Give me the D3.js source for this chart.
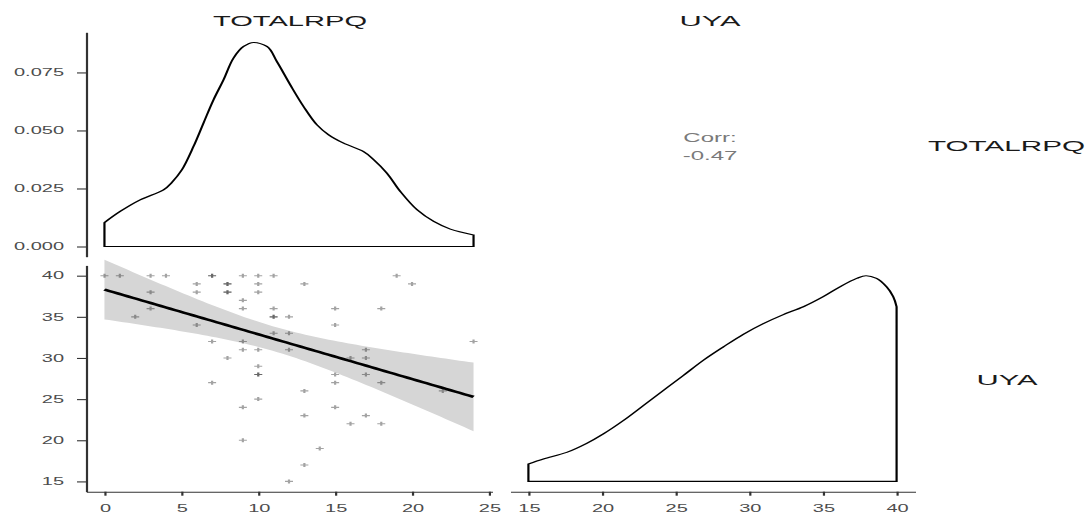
<!DOCTYPE html>
<html><head><meta charset="utf-8">
<script src="https://cdn.jsdelivr.net/npm/d3@7"></script>
<style>html,body{margin:0;padding:0;background:#fff;overflow:hidden}</style>
</head><body>
<script>
// ---------------- data ----------------
const varNames = ["TOTALRPQ", "UYA"];
const totalrpq = [0,1,3,4,7,7,9,10,11,19, 6,8,8,10,13,20, 3,6,8,8,10, 9, 3,9,11,15,18, 2,11,11,12, 6,15, 11,12, 7,9,24, 9,10,12,17, 8,16,17, 10, 10,10,15,17, 7,15,18, 13,22, 10, 9,15, 13,17, 16,18, 9, 14, 13, 12];
const uya      = [40,40,40,40,40,40,40,40,40,40, 39,39,39,39,39,39, 38,38,38,38,38, 37, 36,36,36,36,36, 35,35,35,35, 34,34, 33,33, 32,32,32, 31,31,31,31, 30,30,30, 29, 28,28,28,28, 27,27,27, 26,26, 25, 24,24, 23,23, 22,22, 20, 19, 17, 15];
const corrTitle = "Corr:";
const corrValue = "-0.47";
// density of TOTALRPQ (value, density)
const totDensX = [0,1.02,2.32,3.84,4.38,5.03,5.79,6.44,7.09,7.74,8.39,9.05,9.70,10.56,11.21,12.08,12.95,13.82,14.58,15.55,16.85,17.51,18.37,19.24,20.33,21.41,22.49,24];
const totDensY = [0.0103,0.0151,0.0201,0.0244,0.0276,0.0330,0.0431,0.0532,0.0632,0.0718,0.0812,0.0862,0.0879,0.0862,0.0797,0.0697,0.0603,0.0524,0.0481,0.0445,0.0409,0.0374,0.0316,0.0237,0.0158,0.0108,0.0075,0.0050];
// density of UYA (value, density relative to its peak)
const uyaDensX = [15.0,16.02,17.60,18.96,20.09,21.45,22.81,24.16,25.52,26.88,28.24,29.59,30.95,32.31,33.67,35.02,36.15,37.29,37.92,38.64,39.32,39.77,40.0];
const uyaDensRel = [0.085,0.109,0.141,0.185,0.231,0.296,0.369,0.442,0.515,0.589,0.654,0.715,0.767,0.811,0.849,0.898,0.946,0.987,1.0,0.987,0.946,0.898,0.849];
const xTicksTot = [0,5,10,15,20,25];
const xTicksUya = [15,20,25,30,35,40];
const yTicksDens = [0,0.025,0.05,0.075];
const yTicksUya = [15,20,25,30,35,40];
const tCrit = 1.998; // t(0.975, df = n-2)

// ---------------- layout ----------------
const W = 1091, H = 515, K = 2;           // picture is stretched horizontally by K
const px = v => v / K;
const FONT = "'Liberation Sans', Arial, Helvetica, sans-serif";

const svg = d3.select("body").append("svg")
  .attr("width", W).attr("height", H)
  .attr("viewBox", `0 0 ${W / K} ${H}`)
  .attr("preserveAspectRatio", "none")
  .style("display", "block");

const expand = (ext) => { const p = (ext[1] - ext[0]) * 0.05; return [ext[0] - p, ext[1] + p]; };

const xL = d3.scaleLinear().domain(expand(d3.extent(totalrpq))).range([px(86), px(492)]);
const xR = d3.scaleLinear().domain(expand(d3.extent(uya))).range([px(510), px(915)]);
const yTop = d3.scaleLinear().domain(expand([0, d3.max(totDensY)])).range([256.7, 32.3]);
const yBot = d3.scaleLinear().domain(expand(d3.extent(uya))).range([491.7, 265.4]);

// ---------------- axes ----------------
function styleAxis(g) {
  g.selectAll("path.domain").attr("stroke", "#333").attr("stroke-width", 1.1);
  g.selectAll(".tick line").attr("stroke", "#333").attr("stroke-width", 1.1);
  g.selectAll(".tick text").attr("fill", "#4d4d4d").style("font-family", FONT).style("font-size", "10px");
}
svg.append("g").attr("transform", `translate(${px(86)},0)`)
  .call(d3.axisLeft(yTop).tickValues(yTicksDens).tickFormat(d3.format(".3f")).tickSize(4.5).tickPadding(6.5).tickSizeOuter(0))
  .call(styleAxis);
svg.append("g").attr("transform", `translate(${px(86)},0)`)
  .call(d3.axisLeft(yBot).tickValues(yTicksUya).tickFormat(d3.format("d")).tickSize(4.5).tickPadding(6.5).tickSizeOuter(0))
  .call(styleAxis);
svg.append("g").attr("transform", `translate(0,491.7)`)
  .call(d3.axisBottom(xL).tickValues(xTicksTot).tickFormat(d3.format("d")).tickSize(4).tickPadding(9).tickSizeOuter(0))
  .call(styleAxis);
svg.append("g").attr("transform", `translate(0,491.7)`)
  .call(d3.axisBottom(xR).tickValues(xTicksUya).tickFormat(d3.format("d")).tickSize(4).tickPadding(9).tickSizeOuter(0))
  .call(styleAxis);

// ---------------- top-left density ----------------
const totDens = totDensX.map((x, i) => [x, totDensY[i]]);
svg.append("path").datum(totDens)
  .attr("d", d3.area().x(d => xL(d[0])).y0(yTop(0)).y1(d => yTop(d[1])).curve(d3.curveCatmullRom))
  .attr("fill", "none").attr("stroke", "#000").attr("stroke-width", 1.1);

// ---------------- bottom-left scatter + lm ----------------
const pts = totalrpq.map((x, i) => [x, uya[i]]);
const n = pts.length;
const mx = d3.mean(totalrpq), my = d3.mean(uya);
const Sxx = d3.sum(totalrpq, x => (x - mx) ** 2);
const Sxy = d3.sum(pts, d => (d[0] - mx) * (d[1] - my));
const b = Sxy / Sxx, a = my - b * mx;
const s = Math.sqrt(d3.sum(pts, d => (d[1] - a - b * d[0]) ** 2) / (n - 2));
const [xmin, xmax] = d3.extent(totalrpq);
const grid = d3.range(80).map(i => xmin + (xmax - xmin) * i / 79);
const fit = grid.map(x => {
  const f = a + b * x;
  const se = s * Math.sqrt(1 / n + (x - mx) ** 2 / Sxx);
  return { x, f, lo: f - tCrit * se, hi: f + tCrit * se };
});
svg.append("path").datum(fit)
  .attr("d", d3.area().x(d => xL(d.x)).y0(d => yBot(d.lo)).y1(d => yBot(d.hi)))
  .attr("fill", "#d6d6d6");
svg.append("g").selectAll("path").data(pts).join("path")
  .attr("transform", d => `translate(${xL(d[0])},${yBot(d[1])})`)
  .attr("d", "M-2,0H2M0,-2V2")
  .attr("stroke", "#000").attr("stroke-opacity", 0.36).attr("stroke-width", 1.1).attr("fill", "none");
svg.append("path").datum(fit)
  .attr("d", d3.line().x(d => xL(d.x)).y(d => yBot(d.f)))
  .attr("fill", "none").attr("stroke", "#000").attr("stroke-width", 2.4);

// ---------------- bottom-right density ----------------
const [u0, u1] = d3.extent(uya);
const uyaDens = uyaDensX.map((x, i) => [x, u0 + uyaDensRel[i] * (u1 - u0)]);
svg.append("path").datum(uyaDens)
  .attr("d", d3.area().x(d => xR(d[0])).y0(yBot(u0)).y1(d => yBot(d[1])).curve(d3.curveCatmullRom))
  .attr("fill", "none").attr("stroke", "#000").attr("stroke-width", 1.1);

// ---------------- texts ----------------
function label(x, y, t, size, len, fill) {
  const el = svg.append("text").attr("x", px(x)).attr("y", y).attr("text-anchor", "middle")
    .style("font-family", FONT).style("font-size", size + "px").attr("fill", fill).text(t);
  if (len) el.attr("textLength", px(len)).attr("lengthAdjust", "spacingAndGlyphs");
  return el;
}
label(290, 26, varNames[0], 14.5, 154, "#1a1a1a");
label(710, 26, varNames[1], 14.5, 61, "#1a1a1a");
label(1006.5, 151, varNames[0], 14.5, 157, "#1a1a1a");
label(1007, 385.5, varNames[1], 14.5, 61, "#1a1a1a");
label(710, 142, corrTitle, 12, null, "#7a7a7a");
label(710, 160, corrValue, 12, null, "#7a7a7a");
</script>
</body></html>
